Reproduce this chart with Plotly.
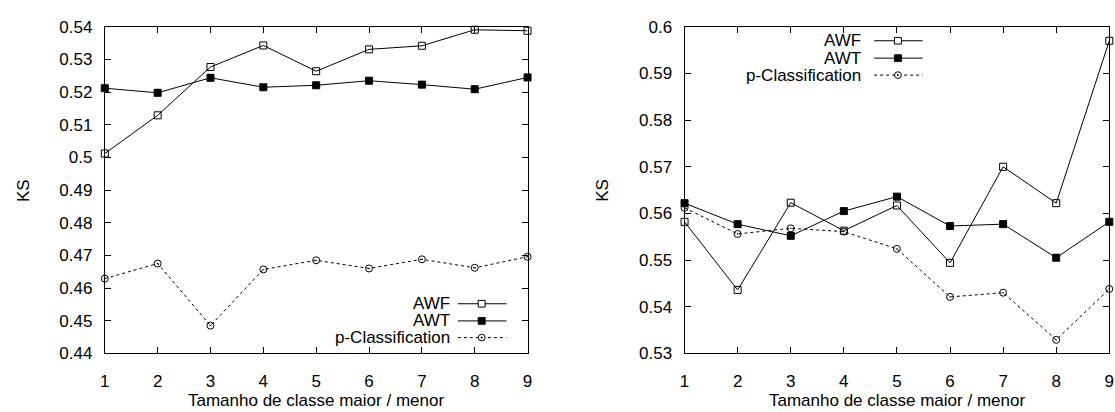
import plotly.graph_objects as go

# ---------------- data ----------------
x_vals = [1, 2, 3, 4, 5, 6, 7, 8, 9]
x_tick_labels = ["1", "2", "3", "4", "5", "6", "7", "8", "9"]

left_awf = [0.5012, 0.5129, 0.5277, 0.5343, 0.5264, 0.5331, 0.5342, 0.5391, 0.5388]
left_awt = [0.5212, 0.5198, 0.5244, 0.5215, 0.5221, 0.5235, 0.5223, 0.5209, 0.5245]
left_pc = [0.4629, 0.4675, 0.4485, 0.4657, 0.4685, 0.4660, 0.4688, 0.4662, 0.4696]

right_awf = [0.5582, 0.5436, 0.5623, 0.5563, 0.5617, 0.5494, 0.5700, 0.5622, 0.5970]
right_awt = [0.5622, 0.5577, 0.5552, 0.5605, 0.5636, 0.5573, 0.5577, 0.5505, 0.5582]
right_pc = [0.5612, 0.5556, 0.5568, 0.5561, 0.5524, 0.5421, 0.5430, 0.5329, 0.5438]

left_y_ticks = [0.44, 0.45, 0.46, 0.47, 0.48, 0.49, 0.50, 0.51, 0.52, 0.53, 0.54]
left_y_labels = ["0.44", "0.45", "0.46", "0.47", "0.48", "0.49", "0.5", "0.51", "0.52", "0.53", "0.54"]
right_y_ticks = [0.53, 0.54, 0.55, 0.56, 0.57, 0.58, 0.59, 0.60]
right_y_labels = ["0.53", "0.54", "0.55", "0.56", "0.57", "0.58", "0.59", "0.6"]

series_names = ["AWF", "AWT", "p-Classification"]
x_title = "Tamanho de classe maior / menor"
y_title = "KS"

# ---------------- layout helpers ----------------
W, H = 1115, 412
FONT = "Liberation Sans, Arial, Helvetica, sans-serif"
FS = 17


def px(v):
    return v / W


def py(v):
    return 1 - v / H


styles = [
    dict(symbol="square-open", dash="solid"),
    dict(symbol="square", dash="solid"),
    dict(symbol="circle-open-dot", dash="dot"),
]

fig = go.Figure()

panels = [
    ("x", "y", [left_awf, left_awt, left_pc]),
    ("x2", "y2", [right_awf, right_awt, right_pc]),
]
for xa, ya, series in panels:
    for name, vals, st in zip(series_names, series, styles):
        fig.add_trace(go.Scatter(
            x=x_vals, y=vals, name=name, xaxis=xa, yaxis=ya,
            mode="lines+markers", cliponaxis=False, showlegend=False,
            line=dict(color="black", width=1, dash=st["dash"]),
            marker=dict(symbol=st["symbol"], size=7, color="black",
                        line=dict(color="black", width=1)),
        ))

axis_common = dict(
    showline=True, linecolor="black", linewidth=1, mirror="ticks",
    ticks="inside", ticklen=6, tickwidth=1, tickcolor="black",
    showgrid=False, zeroline=False,
    tickfont=dict(family=FONT, size=FS, color="black"),
)

ydom = [py(361), py(18.7)]
fig.update_layout(
    width=W, height=H,
    margin=dict(l=0, r=0, t=0, b=0),
    paper_bgcolor="white", plot_bgcolor="white",
    font=dict(family=FONT, size=FS, color="black"),
    xaxis=dict(domain=[px(100.7), px(527.3)], range=[1, 9], anchor="y",
               tickvals=x_vals, ticktext=x_tick_labels, ticklabelstandoff=12, **axis_common),
    yaxis=dict(domain=ydom, range=[0.44, 0.54], anchor="x",
               tickvals=left_y_ticks, ticktext=left_y_labels, ticklabelstandoff=8, **axis_common),
    xaxis2=dict(domain=[px(685.7), px(1114.3)], range=[1, 9], anchor="y2",
                tickvals=x_vals, ticktext=x_tick_labels, ticklabelstandoff=12, **axis_common),
    yaxis2=dict(domain=ydom, range=[0.53, 0.60], anchor="x2",
                tickvals=right_y_ticks, ticktext=right_y_labels, ticklabelstandoff=8, **axis_common),
)

annotations = []
shapes = []

# axis titles
for cx in [314, 900]:
    annotations.append(dict(text=x_title, x=px(cx), y=py(410), xref="paper", yref="paper",
                            xanchor="center", yanchor="middle", showarrow=False,
                            font=dict(family=FONT, size=FS, color="black")))
for cx in [18, 603]:
    annotations.append(dict(text=y_title, x=px(cx), y=py(190), xref="paper", yref="paper",
                            xanchor="center", yanchor="middle", showarrow=False, textangle=-90,
                            font=dict(family=FONT, size=FS, color="black")))

# legends (text on the left, sample on the right, gnuplot style)
legend_specs = [
    dict(text_end=451, x0=457, x1=506, mx=481, rows=[309, 327, 344.5]),
    dict(text_end=866, x0=877, x1=926, mx=901, rows=[33.3, 51.5, 69.3]),
]
R = 3.5
for spec in legend_specs:
    for name, st, ry in zip(series_names, styles, spec["rows"]):
        annotations.append(dict(text=name, x=px(spec["text_end"]), y=py(ry), xref="paper", yref="paper",
                                xanchor="right", yanchor="middle", showarrow=False,
                                font=dict(family=FONT, size=FS, color="black")))
        shapes.append(dict(type="line", xref="paper", yref="paper",
                           x0=px(spec["x0"]), x1=px(spec["x1"]), y0=py(ry), y1=py(ry),
                           line=dict(color="black", width=1, dash=st["dash"])))
        mx = spec["mx"]
        if st["symbol"].startswith("square"):
            filled = st["symbol"] == "square"
            shapes.append(dict(type="rect", xref="paper", yref="paper",
                               x0=px(mx - R), x1=px(mx + R), y0=py(ry + R), y1=py(ry - R),
                               line=dict(color="black", width=1),
                               fillcolor="black" if filled else "white"))
        else:
            shapes.append(dict(type="circle", xref="paper", yref="paper",
                               x0=px(mx - R), x1=px(mx + R), y0=py(ry + R), y1=py(ry - R),
                               line=dict(color="black", width=1), fillcolor="white"))
            shapes.append(dict(type="circle", xref="paper", yref="paper",
                               x0=px(mx - 0.8), x1=px(mx + 0.8), y0=py(ry + 0.8), y1=py(ry - 0.8),
                               line=dict(color="black", width=0.5), fillcolor="black"))

fig.update_layout(annotations=annotations, shapes=shapes)

fig.write_html("out.html")
